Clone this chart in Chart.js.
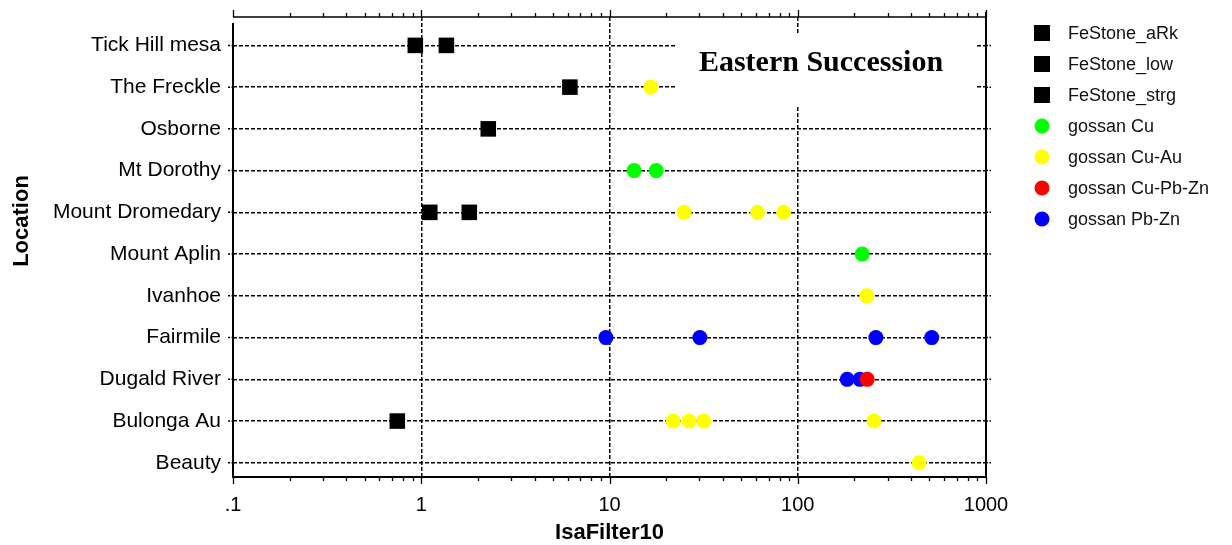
<!DOCTYPE html>
<html>
<head>
<meta charset="utf-8">
<title>Eastern Succession</title>
<script src="https://cdn.jsdelivr.net/npm/chart.js@4"></script>
<style>
  html, body { margin: 0; padding: 0; background: #fff; }
  #wrap { width: 1232px; height: 545px; }
</style>
</head>
<body>
<div id="wrap"><canvas id="myChart" width="1232" height="545"></canvas></div>
<script>
// locations, top row first
const locations = ["Tick Hill mesa", "The Freckle", "Osborne", "Mt Dorothy", "Mount Dromedary",
  "Mount Aplin", "Ivanhoe", "Fairmile", "Dugald River", "Bulonga Au", "Beauty"];

// [location, IsaFilter10]
const feStoneARk = [["Tick Hill mesa", 0.93], ["Osborne", 2.27]];
const feStoneLow = [["The Freckle", 6.16], ["Mount Dromedary", 1.11], ["Bulonga Au", 0.746]];
const feStoneStrg = [["Tick Hill mesa", 1.36], ["Mount Dromedary", 1.80]];
const gossanCu = [["Mt Dorothy", 13.5], ["Mt Dorothy", 17.7], ["Mount Aplin", 220]];
const gossanCuAu = [["The Freckle", 16.6], ["Mount Dromedary", 24.9], ["Mount Dromedary", 61.2],
  ["Mount Dromedary", 84.1], ["Ivanhoe", 233], ["Bulonga Au", 21.8], ["Bulonga Au", 26.5],
  ["Bulonga Au", 31.7], ["Bulonga Au", 254], ["Beauty", 441]];
const gossanCuPbZn = [["Dugald River", 234]];
const gossanPbZn = [["Fairmile", 9.57], ["Fairmile", 30.2], ["Fairmile", 260], ["Fairmile", 515],
  ["Dugald River", 183], ["Dugald River", 214]];

const xTickLabels = [".1", "1", "10", "100", "1000"];

function toPoints(rows) {
  return rows.map(r => ({ x: r[1], y: locations.indexOf(r[0]) }));
}

function series(label, rows, color, square) {
  return {
    label: label,
    data: toPoints(rows),
    backgroundColor: color,
    borderColor: color,
    borderWidth: 0,
    pointStyle: square ? "rect" : "circle",
    pointRadius: square ? 11 : 7.5,
    pointHoverRadius: square ? 11 : 7.5,
  };
}

Chart.defaults.font.family = "'Liberation Sans', Arial, sans-serif";
Chart.defaults.color = "#000";

const gridDash = [4, 2];

// frame, tick marks, title box, legend and y title
const decor = {
  id: "decor",
  beforeDatasetsDraw(chart) {
    const c = chart.ctx;
    const a = chart.chartArea;
    const xs = chart.scales.x;
    const ys = chart.scales.y;
    c.save();
    c.strokeStyle = "#000";

    // top and bottom axis lines with log ticks
    c.lineWidth = 1.6;
    c.beginPath();
    c.moveTo(a.left, a.top); c.lineTo(a.right, a.top);
    c.stroke();
    c.lineWidth = 2;
    c.beginPath();
    c.moveTo(a.left - 1, a.bottom); c.lineTo(a.right + 1, a.bottom);
    c.stroke();
    c.lineWidth = 1.3;
    c.beginPath();
    xs.ticks.forEach(t => {
      const px = Math.round(xs.getPixelForValue(t.value)) + 0.5;
      const len = t.major ? 7 : 4;
      c.moveTo(px, a.top); c.lineTo(px, a.top - len);
      c.moveTo(px, a.bottom); c.lineTo(px, a.bottom + len);
    });
    c.stroke();

    // left and right axis lines
    c.lineWidth = 2;
    c.beginPath();
    c.moveTo(a.left, a.top + 6); c.lineTo(a.left, a.bottom);
    c.moveTo(a.right, a.top - 5); c.lineTo(a.right, a.bottom);
    c.stroke();
    c.lineWidth = 1.5;
    c.beginPath();
    ys.ticks.forEach(t => {
      const py = ys.getPixelForValue(t.value);
      c.moveTo(a.left - 5, py); c.lineTo(a.left, py);
      c.moveTo(a.right, py); c.lineTo(a.right + 5, py);
    });
    c.setLineDash([2, 1.5]);
    c.stroke();
    c.setLineDash([]);

    // title box
    c.fillStyle = "#fff";
    c.fillRect(675, 33, 300, 73);
    c.fillStyle = "#000";
    c.font = "bold 30px 'Liberation Serif', 'Times New Roman', serif";
    c.textAlign = "center";
    c.textBaseline = "alphabetic";
    c.fillText("Eastern Succession", 821, 71);
    c.restore();
  },
  afterDraw(chart) {
    const c = chart.ctx;
    const a = chart.chartArea;
    c.save();

    // y axis title
    c.translate(22, 221);
    c.rotate(-Math.PI / 2);
    c.font = "bold 22px 'Liberation Sans', Arial, sans-serif";
    c.fillStyle = "#000";
    c.textAlign = "center";
    c.textBaseline = "middle";
    c.fillText("Location", 0, 0);
    c.setTransform(1, 0, 0, 1, 0, 0);

    // legend
    c.font = "18px 'Liberation Sans', Arial, sans-serif";
    c.textAlign = "left";
    c.textBaseline = "middle";
    chart.data.datasets.forEach((ds, i) => {
      const cx = a.right + 56;
      const cy = 33 + i * 31;
      c.fillStyle = ds.backgroundColor;
      if (ds.pointStyle === "rect") {
        c.fillRect(cx - 8, cy - 8, 16, 16);
      } else {
        c.beginPath();
        c.arc(cx, cy, 7.5, 0, Math.PI * 2);
        c.fill();
      }
      c.fillStyle = "#111";
      c.fillText(ds.label, a.right + 82, cy + 1);
    });
    c.restore();
  },
};

const ctx = document.getElementById("myChart").getContext("2d");

const myChart = new Chart(ctx, {
  type: "scatter",
  data: {
    datasets: [
      series("FeStone_aRk", feStoneARk, "#000000", true),
      series("FeStone_low", feStoneLow, "#000000", true),
      series("FeStone_strg", feStoneStrg, "#000000", true),
      series("gossan Cu", gossanCu, "#00ff00", false),
      series("gossan Cu-Au", gossanCuAu, "#ffff00", false),
      series("gossan Cu-Pb-Zn", gossanCuPbZn, "#ff0000", false),
      series("gossan Pb-Zn", gossanPbZn, "#0000ff", false),
    ],
  },
  options: {
    responsive: false,
    devicePixelRatio: 1,
    animation: false,
    events: [],
    layout: { padding: { left: 0, top: 17, right: 246, bottom: 0 } },
    plugins: {
      legend: { display: false },
      tooltip: { enabled: false },
    },
    scales: {
      x: {
        type: "logarithmic",
        position: "bottom",
        min: 0.1,
        max: 1000,
        afterFit: (scale) => {
          scale.height = 68;
          scale.paddingLeft = 0;
          scale.paddingRight = 0;
        },
        afterBuildTicks: (scale) => {
          const t = [];
          for (let e = -1; e <= 2; e++) {
            for (let m = 1; m <= 9; m++) t.push({ value: m * Math.pow(10, e), major: m === 1 });
          }
          t.push({ value: 1000, major: true });
          scale.ticks = t;
        },
        ticks: {
          autoSkip: false,
          maxRotation: 0,
          padding: 16,
          font: { size: 20 },
          callback: (value, index, ticks) =>
            ticks[index].major ? xTickLabels[Math.round(Math.log10(value)) + 1] : "",
        },
        grid: {
          drawTicks: false,
          lineWidth: 1.5,
          color: (c) => (c.tick && c.tick.major && c.tick.value > 0.1 && c.tick.value < 1000 ? "#000" : "rgba(0,0,0,0)"),
        },
        border: { display: false, dash: gridDash },
        title: {
          display: true,
          text: "IsaFilter10",
          font: { size: 22, weight: "bold", lineHeight: 1 },
          padding: { top: 0, bottom: 1 },
        },
      },
      y: {
        type: "linear",
        position: "left",
        reverse: true,
        min: -0.68,
        max: 10.34,
        afterFit: (scale) => {
          scale.width = 233;
          scale.paddingTop = 0;
          scale.paddingBottom = 0;
        },
        afterBuildTicks: (scale) => {
          scale.ticks = locations.map((_, i) => ({ value: i }));
        },
        ticks: {
          autoSkip: false,
          padding: 12,
          font: { size: 21 },
          callback: (value) => locations[value],
        },
        grid: {
          drawTicks: false,
          lineWidth: 1.5,
          color: "#000",
        },
        border: { display: false, dash: gridDash },
      },
    },
  },
  plugins: [decor],
});
</script>
</body>
</html>
